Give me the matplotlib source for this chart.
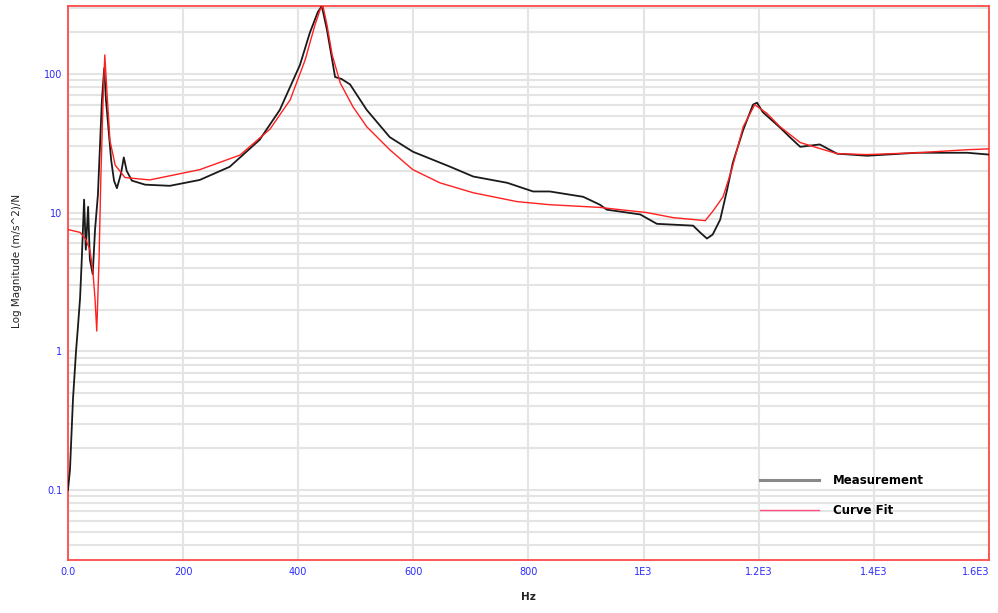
import matplotlib
matplotlib.use("Agg")
import matplotlib.pyplot as plt
import numpy as np

# Measurement (Hz, magnitude)
meas_f = [0, 3.5, 8.7, 14, 17, 21, 24, 28, 31, 35, 38, 43, 47, 52, 56, 59, 63, 66, 69, 75, 80, 85,
          92, 97, 102, 111, 134, 177, 229, 281, 333, 368, 403, 420, 434, 441, 450, 459, 464, 475, 490,
          519, 559, 599, 664, 704, 763, 808, 837, 895, 924, 936, 994, 1023, 1086, 1098, 1110, 1120,
          1133, 1145, 1155, 1173, 1190, 1197, 1207, 1237, 1254, 1272, 1306, 1336, 1388, 1475, 1562, 1600]
meas_v = [0.10, 0.14, 0.45, 1.0, 1.44, 2.4, 4.6, 12.4, 5.4, 11, 4.6, 3.6, 7.5, 13.4, 33, 65, 110, 65,
          47, 24, 17, 15, 19, 25, 20, 17, 15.9, 15.6, 17.2, 21.4, 33.5, 55, 116, 197, 279, 308, 207,
          126, 95, 92, 84, 55, 35, 27.5, 21.4, 18.2, 16.4, 14.2, 14.2, 13.0, 11.4, 10.5, 9.7, 8.3, 8.05,
          7.2, 6.5, 6.95, 8.9, 14.6, 22.9, 39.5, 60, 62, 53, 41, 35, 29.8, 31, 26.6, 25.7, 27, 27, 26.2]

# Curve fit (Hz, magnitude)
fit_f = [0, 21, 31, 38, 43, 47, 50, 54, 57, 61, 64, 68, 73, 82, 99, 142, 229, 299, 351, 386, 412,
         429, 438, 443, 450, 459, 473, 495, 519, 559, 599, 646, 704, 780, 837, 924, 959, 1006, 1051,
         1107, 1120, 1138, 1153, 1173, 1193, 1214, 1237, 1272, 1301, 1336, 1388, 1475, 1562, 1600]
fit_v = [7.55, 7.2, 6.4, 5.4, 3.9, 2.4, 1.4, 4.6, 17, 65, 137, 71, 33, 22, 17.9, 17.2, 20.4, 26, 40,
         65, 126, 225, 290, 308, 225, 137, 86, 58, 41.6, 28.4, 20.4, 16.4, 13.9, 12.0, 11.4, 10.9,
         10.5, 10, 9.2, 8.75, 10.2, 13, 20.4, 41.6, 60, 52, 41.6, 32, 29.4, 26.6, 26.2, 27, 28.4, 28.8]

x_ticks = [0, 200, 400, 600, 800, 1000, 1200, 1400, 1600]
x_labels = ["0.0", "200", "400", "600", "800", "1E3", "1.2E3", "1.4E3", "1.6E3"]
y_ticks = [0.1, 1, 10, 100]
y_labels = ["0.1", "1", "10", "100"]

fig = plt.figure(figsize=(9.98, 6.13), dpi=100)
ax = fig.add_axes([0.0681, 0.0865, 0.9229, 0.9035])

ax.plot(meas_f, meas_v, color="#1a1a1a", lw=1.3, label="Measurement", zorder=3)
ax.plot(fit_f, fit_v, color="#ff2020", lw=1.0, label="Curve Fit", zorder=4)

ax.set_yscale("log")
ax.set_xlim(0, 1600)
ax.set_ylim(0.0313, 308)

ax.set_xticks(x_ticks)
ax.set_xticklabels(x_labels)
ax.set_yticks(y_ticks)
ax.set_yticklabels(y_labels)
ax.yaxis.set_minor_locator(matplotlib.ticker.LogLocator(base=10, subs=np.arange(2, 10)))
ax.yaxis.set_minor_formatter(matplotlib.ticker.NullFormatter())

ax.tick_params(axis="both", which="both", length=0, labelsize=7, labelcolor="#2a2aff")
ax.tick_params(axis="x", pad=5)
ax.tick_params(axis="y", pad=4)
ax.get_xticklabels()[-1].set_horizontalalignment("right")

ax.grid(True, axis="x", which="major", color="#e4e4e4", lw=1.5)
ax.grid(True, axis="y", which="both", color="#e4e4e4", lw=1.5)
ax.set_axisbelow(True)

for s in ax.spines.values():
    s.set_color("#ff4a4a")
    s.set_linewidth(1.3)

ax.set_xlabel("Hz", fontsize=7.5, fontweight="bold", color="#222222", labelpad=11)
ax.set_ylabel("Log Magnitude (m/s^2)/N", fontsize=7.5, color="#222222")
ax.yaxis.set_label_coords(-0.05, 0.54)

leg = ax.legend(loc="upper left", bbox_to_anchor=(0.74, 0.175), frameon=False,
                handlelength=5, handletextpad=1.2, labelspacing=1.5,
                prop={"weight": "bold", "size": 8.5})
leg.get_lines()[0].set_color("#888888")
leg.get_lines()[0].set_linewidth(2.2)
leg.get_lines()[1].set_color("#ff5080")

fig.savefig("out.png", dpi=100)
